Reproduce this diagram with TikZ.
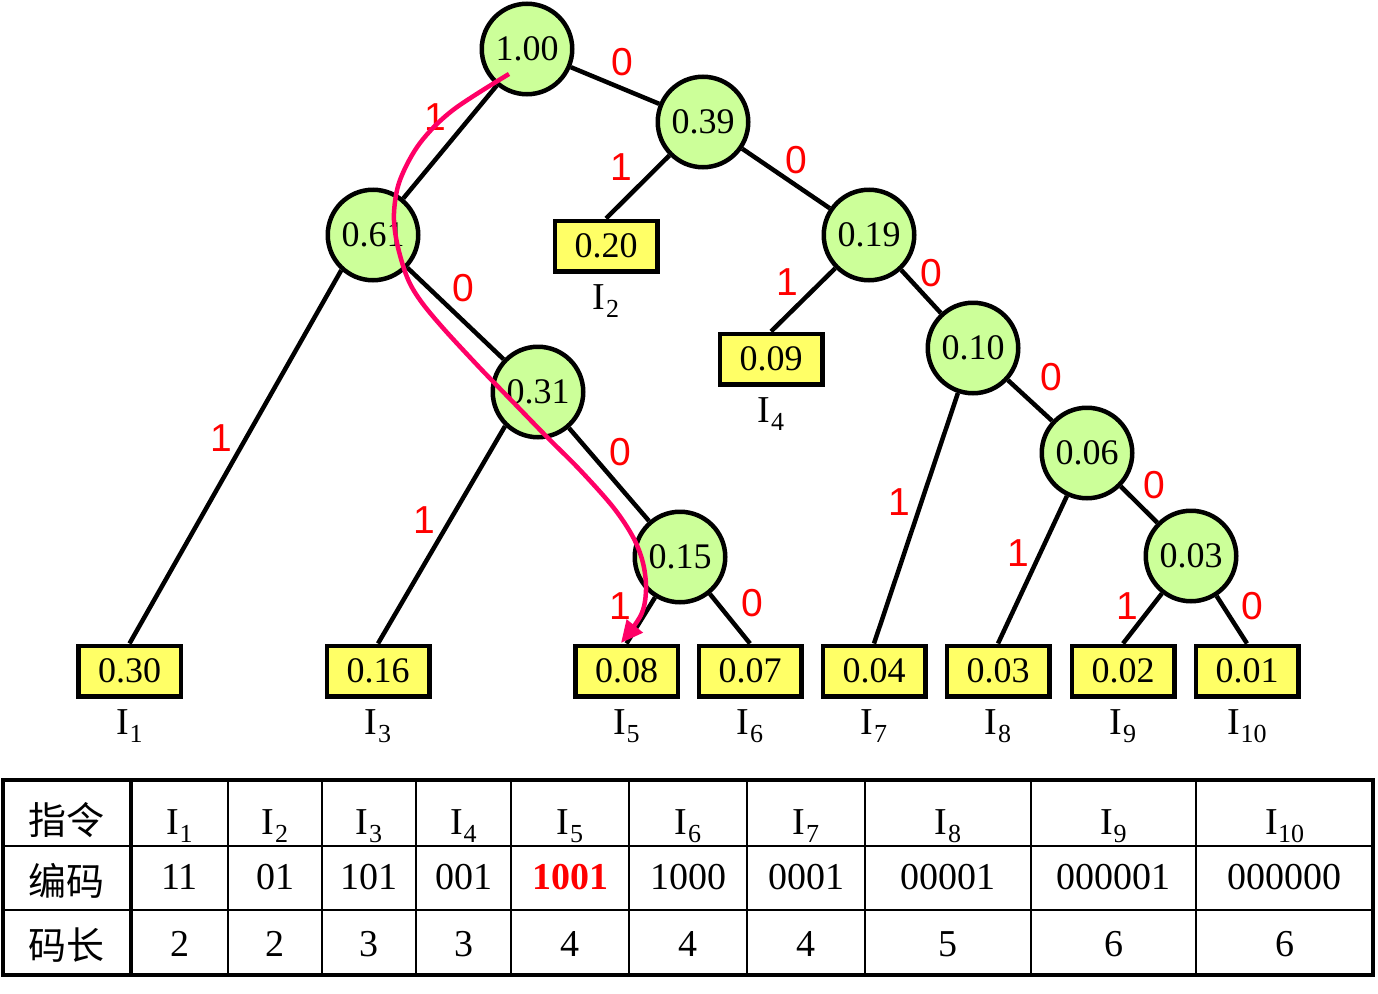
\documentclass[tikz,border=0pt]{standalone}
\usepackage{fontspec}
\setmainfont{Liberation Serif}
\newfontfamily\arialf{Liberation Sans}
\newfontfamily\cjkf{Noto Sans CJK SC}
\usetikzlibrary{arrows.meta}
\definecolor{nodegreen}{RGB}{204,255,153}
\definecolor{leafyellow}{RGB}{255,255,102}
\definecolor{pathpink}{RGB}{255,0,102}
\definecolor{bitred}{RGB}{255,0,0}
\newcommand{\instr}[1]{I\kern0.01em\raisebox{-0.22em}{\fontsize{26}{28}\selectfont #1}}
\tikzset{
  sumnode/.style={circle, draw=black, line width=4.5pt, fill=nodegreen, minimum size=90.5pt, inner sep=0pt, font=\fontsize{36}{40}\selectfont},
  leafbox/.style={rectangle, draw=black, line width=4.5pt, fill=leafyellow, minimum width=102.5pt, minimum height=50.5pt, inner sep=0pt, font=\fontsize{36}{40}\selectfont},
  treeline/.style={line width=4.5pt, draw=black},
  bitlabel/.style={text=bitred, font=\arialf\fontsize{39}{42}\selectfont, inner sep=0pt},
  instlabel/.style={anchor=base, inner sep=0pt, font=\fontsize{38}{42}\selectfont},
  pinkcurve/.style={line width=4.5pt, draw=pathpink, -{Triangle[length=22pt, width=20pt]}},
  tabthick/.style={line width=4.5pt, draw=black},
  tabthin/.style={line width=2pt, draw=black},
  tabtext/.style={anchor=base, inner sep=0pt, font=\fontsize{38}{42}\selectfont},
  tabcjk/.style={inner sep=0pt, font=\cjkf\fontsize{38}{42}\selectfont},
}
\begin{document}
\begin{tikzpicture}[x=1pt, y=-1pt]
\useasboundingbox (0,0) rectangle (1378,993);

% internal nodes
\node[sumnode] (n100) at (527,49)  {1.00};
\node[sumnode] (n039) at (703,122) {0.39};
\node[sumnode] (n061) at (373,235) {0.61};
\node[sumnode] (n019) at (869,235) {0.19};
\node[sumnode] (n010) at (973,348) {0.10};
\node[sumnode] (n031) at (538,392) {0.31};
\node[sumnode] (n006) at (1087,453) {0.06};
\node[sumnode] (n015) at (680,557) {0.15};
\node[sumnode] (n003) at (1191,556) {0.03};

% leaves
\node[leafbox] (b020) at (606,246)  {0.20};
\node[leafbox] (b009) at (771,359)  {0.09};
\node[leafbox] (b030) at (129.5,671) {0.30};
\node[leafbox] (b016) at (378,671)  {0.16};
\node[leafbox] (b008) at (626.5,671) {0.08};
\node[leafbox] (b007) at (750,671)  {0.07};
\node[leafbox] (b004) at (874,671)  {0.04};
\node[leafbox] (b003) at (998,671)  {0.03};
\node[leafbox] (b002) at (1123,671) {0.02};
\node[leafbox] (b001) at (1247,671) {0.01};

% instruction labels
\node[instlabel] (l2)  at ([yshift=-36pt]b020.south) {\instr{2}};
\node[instlabel] (l4)  at ([yshift=-36pt]b009.south) {\instr{4}};
\node[instlabel] (l1)  at ([yshift=-36pt]b030.south) {\instr{1}};
\node[instlabel] (l3)  at ([yshift=-36pt]b016.south) {\instr{3}};
\node[instlabel] (l5)  at ([yshift=-36pt]b008.south) {\instr{5}};
\node[instlabel] (l6)  at ([yshift=-36pt]b007.south) {\instr{6}};
\node[instlabel] (l7)  at ([yshift=-36pt]b004.south) {\instr{7}};
\node[instlabel] (l8)  at ([yshift=-36pt]b003.south) {\instr{8}};
\node[instlabel] (l9)  at ([yshift=-36pt]b002.south) {\instr{9}};
\node[instlabel] (l10) at ([yshift=-36pt]b001.south) {\instr{10}};

% edges
\draw[treeline] (n100) -- (n039);
\draw[treeline] (n100) -- (n061);
\draw[treeline] (n039) -- (b020.north);
\draw[treeline] (n039) -- (n019);
\draw[treeline] (n061) -- (n031);
\draw[treeline] (n061.228) -- (b030.north);
\draw[treeline] (n019) -- (b009.north);
\draw[treeline] (n019) -- (n010);
\draw[treeline] (n031.226) -- (b016.north);
\draw[treeline] (n031) -- (n015);
\draw[treeline] (n015) -- (b008.north);
\draw[treeline] (n015) -- (b007.north);
\draw[treeline] (n010) -- (b004.north);
\draw[treeline] (n010) -- (n006);
\draw[treeline] (n006) -- (b003.north);
\draw[treeline] (n006) -- (n003);
\draw[treeline] (n003) -- (b002.north);
\draw[treeline] (n003) -- (b001.north);

% bit labels
\node[bitlabel] (e1)  at (622,62)   {0};
\node[bitlabel] (e2)  at (435,117)  {1};
\node[bitlabel] (e3)  at (621,167)  {1};
\node[bitlabel] (e4)  at (796,160)  {0};
\node[bitlabel] (e5)  at (463,288)  {0};
\node[bitlabel] (e6)  at (787,282)  {1};
\node[bitlabel] (e7)  at (931,273)  {0};
\node[bitlabel] (e8)  at (221,438)  {1};
\node[bitlabel] (e9)  at (1051,377) {0};
\node[bitlabel] (e10) at (620,452)  {0};
\node[bitlabel] (e11) at (424,520)  {1};
\node[bitlabel] (e12) at (899,502)  {1};
\node[bitlabel] (e13) at (1154,485) {0};
\node[bitlabel] (e14) at (1018,553) {1};
\node[bitlabel] (e15) at (620,606)  {1};
\node[bitlabel] (e16) at (752,603)  {0};
\node[bitlabel] (e17) at (1127,606) {1};
\node[bitlabel] (e18) at (1252,606) {0};

% highlighted path
\coordinate (pstart) at (509,74);
\coordinate (pend) at (621,643);
\draw[pinkcurve] plot[smooth, tension=0.55] coordinates {(pstart) (453,110) (420,143) (400,180) (394,213) (397,243) (407,277) (420,300) (443,328) (480,368) (513,402) (547,437) (580,470) (613,507) (633,537) (643,563) (646,590) (641,615) (pend)};

% table grid
\foreach \xx in {228,322,416,511,629,747,865,1031,1196} {
  \draw[tabthin] (\xx,780) -- (\xx,975);
}
\draw[tabthin] (3,846) -- (1373,846);
\draw[tabthin] (3,910) -- (1373,910);
\draw[tabthick] (131,780) -- (131,975);
\draw[tabthick] (3,780) rectangle (1373,975);

% table text
\node[tabcjk] (t00) at (66,820) {指令};
\node[tabcjk] (t01) at (66,881) {编码};
\node[tabcjk] (t02) at (66,945) {码长};
\foreach \cx/\nm/\ln [count=\i] in {179.5/1/2, 275/2/2, 369/3/3, 463.5/4/3, 570/5/4, 688/6/4, 806/7/4, 948/8/5, 1113.5/9/6, 1284.5/10/6} {
  \node[tabtext] (h\i) at (\cx,834) {\instr{\nm}};
  \node[tabtext] (k\i) at (\cx,956) {\ln};
}
\node[tabtext] (c1)  at (179.5,889) {11};
\node[tabtext] (c2)  at (275,889)   {01};
\node[tabtext] (c3)  at (369,889)   {101};
\node[tabtext] (c4)  at (463.5,889) {001};
\node[tabtext, text=bitred, font=\bfseries\fontsize{38}{42}\selectfont] (c5) at (570,889) {1001};
\node[tabtext] (c6)  at (688,889)   {1000};
\node[tabtext] (c7)  at (806,889)   {0001};
\node[tabtext] (c8)  at (948,889)   {00001};
\node[tabtext] (c9)  at (1113.5,889) {000001};
\node[tabtext] (c10) at (1284.5,889) {000000};
\end{tikzpicture}
\end{document}
